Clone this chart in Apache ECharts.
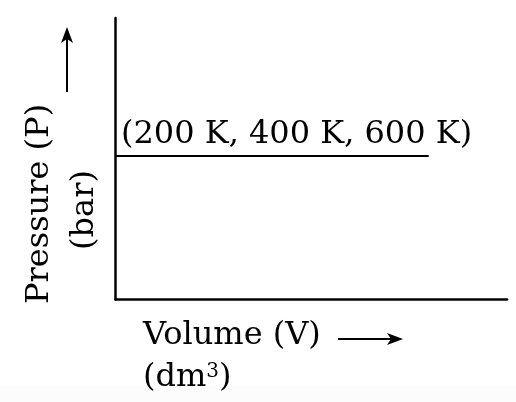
<!DOCTYPE html>
<html>
<head>
<meta charset="utf-8">
<script src="https://cdn.jsdelivr.net/npm/echarts@6/dist/echarts.min.js"></script>
<style>
  html, body { margin: 0; padding: 0; background: #fff; }
  #chart { width: 516px; height: 402px; }
</style>
</head>
<body>
<div id="chart"></div>
<script>
// isotherm-like line: same pressure at every temperature
const volumeValues = [0, 80]
const pressureValues = [51, 51]
const lineLabel = '(200 K, 400 K, 600 K)'
const xTitle = 'Volume (V)'
const yTitle = 'Pressure (P)'
const yUnit = '(bar)'

const serif = 'DejaVu Serif'

const chart = echarts.init(document.getElementById('chart'))

const options = {
  animation: false,
  backgroundColor: '#fff',
  grid: { left: 115.5, top: 18, right: 9, bottom: 102.5, containLabel: false },
  xAxis: {
    type: 'value',
    min: 0,
    max: 100,
    axisLine: { show: true, lineStyle: { color: '#000', width: 2.5 } },
    axisTick: { show: false },
    axisLabel: { show: false },
    splitLine: { show: false }
  },
  yAxis: {
    type: 'value',
    min: 0,
    max: 100,
    axisLine: { show: true, lineStyle: { color: '#000', width: 2.5 } },
    axisTick: { show: false },
    axisLabel: { show: false },
    splitLine: { show: false }
  },
  series: [
    {
      type: 'line',
      data: volumeValues.map((v, i) => ({
        value: [v, pressureValues[i]],
        label: i === 0 ? {
          show: true,
          formatter: lineLabel,
          position: [6, -37],
          align: 'left',
          verticalAlign: 'top',
          fontFamily: serif,
          fontSize: 32,
          color: '#000'
        } : { show: false }
      })),
      symbol: 'circle',
      symbolSize: 1,
      showSymbol: true,
      itemStyle: { color: 'rgba(0,0,0,0)' },
      lineStyle: { color: '#000', width: 2 }
    }
  ],
  graphic: [
    // faint strip at the bottom
    { type: 'rect', shape: { x: 0, y: 386, width: 516, height: 16 }, style: { fill: '#fcfcfc' }, silent: true },
    {
      type: 'text', x: 143, y: 352,
      style: {
        text: xTitle, fontFamily: serif, fontSize: 32, fill: '#000',
        verticalAlign: 'bottom'
      }
    },
    {
      type: 'text', x: 143, y: 394,
      style: {
        text: '{a|(dm}{s|3}{a|)}',
        verticalAlign: 'bottom',
        rich: {
          a: { fontFamily: serif, fontSize: 32, color: '#000' },
          s: { fontFamily: serif, fontSize: 20, color: '#000', padding: [0, 0, 12, 0] }
        }
      }
    },
    // horizontal arrow
    { type: 'line', shape: { x1: 338, y1: 339, x2: 392, y2: 339 }, style: { stroke: '#000', lineWidth: 2 } },
    { type: 'polygon', shape: { points: [[403, 339], [387, 333], [391, 339], [387, 345]] }, style: { fill: '#000' } },
    {
      type: 'text', x: 56, y: 304, rotation: Math.PI / 2,
      style: {
        text: yTitle, fontFamily: serif, fontSize: 32, fill: '#000',
        align: 'left', verticalAlign: 'bottom'
      }
    },
    {
      type: 'text', x: 101, y: 210, rotation: Math.PI / 2,
      style: {
        text: yUnit, fontFamily: serif, fontSize: 32, fill: '#000',
        align: 'center', verticalAlign: 'bottom'
      }
    },
    // vertical arrow
    { type: 'line', shape: { x1: 67, y1: 92, x2: 67, y2: 38 }, style: { stroke: '#000', lineWidth: 2 } },
    { type: 'polygon', shape: { points: [[67, 27], [61, 43], [67, 39], [73, 43]] }, style: { fill: '#000' } }
  ]
}

chart.setOption(options)
window.addEventListener('resize', function () {
  chart.resize()
})
</script>
</body>
</html>
